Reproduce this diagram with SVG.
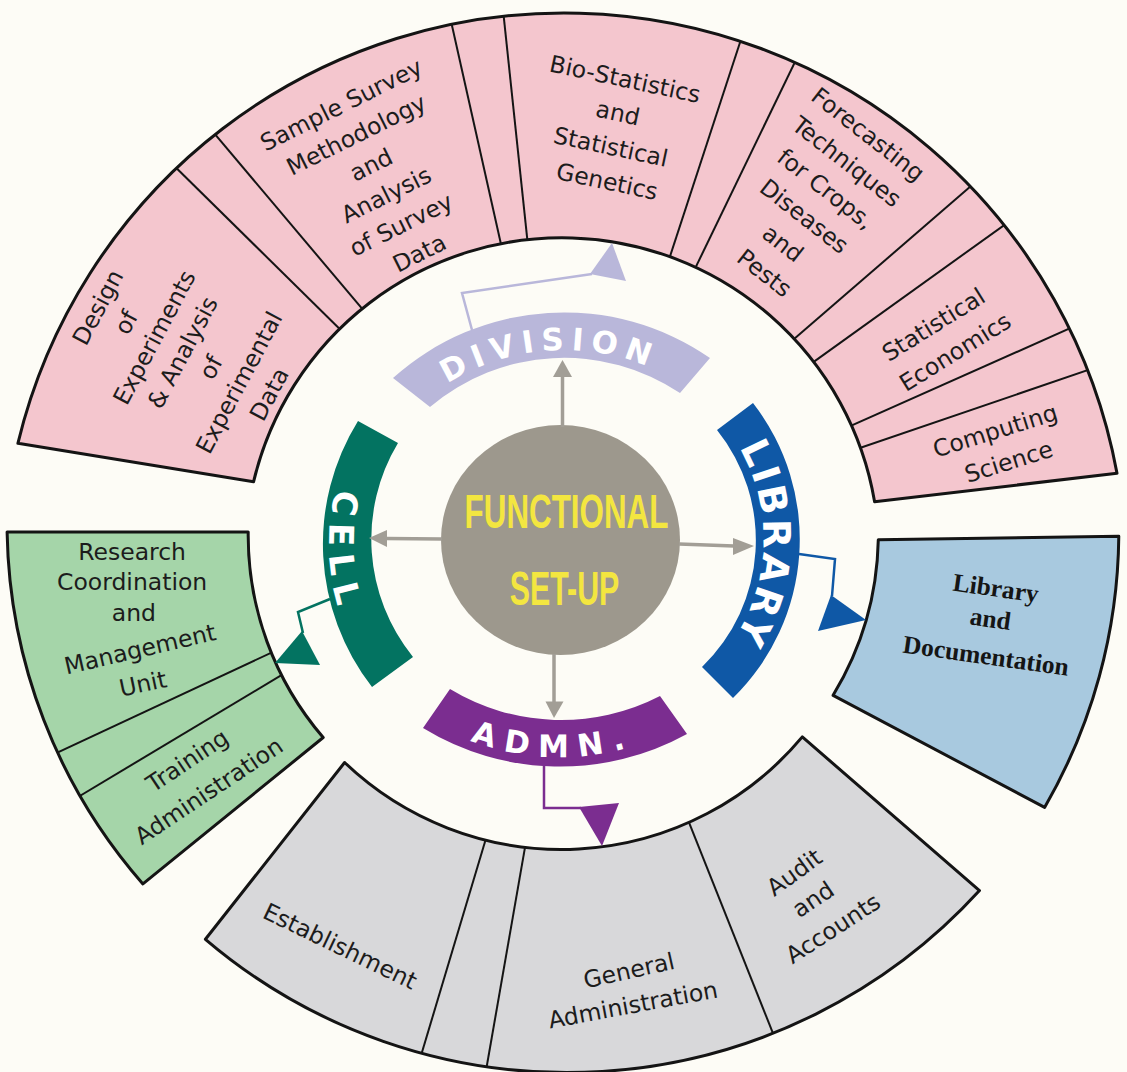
<svg xmlns="http://www.w3.org/2000/svg" width="1127" height="1072" viewBox="0 0 1127 1072">
  <defs>
    <style>
      .bg { fill: #fdfcf6; }
      .pink { fill: #f4c6ce; }
      .green { fill: #a5d5a9; }
      .blue { fill: #a8c9df; }
      .grey { fill: #d8d8da; }
      .outline { fill: none; stroke: #141414; stroke-width: 3; stroke-linejoin: round; }
      .sep { stroke: #141414; stroke-width: 2; fill: none; }
      .lbl { font-family: "DejaVu Sans", "Liberation Sans", sans-serif; font-size: 23.5px; fill: #1c1c1c; text-anchor: middle; }
      .serif { font-family: "Liberation Serif", "DejaVu Serif", serif; font-weight: bold; font-size: 25.5px; fill: #151515; text-anchor: middle; }
      .band-t { font-family: "DejaVu Sans", "Liberation Sans", sans-serif; font-weight: bold; fill: #ffffff; }
      .core-t { font-family: "Liberation Sans", "DejaVu Sans", sans-serif; font-weight: bold; font-size: 49px; fill: #f3e640; text-anchor: middle; }
      .shaft { stroke: #a29e96; stroke-width: 3.5; fill: none; }
      .head { fill: #a29e96; }
    </style>

    <!-- outer ring boxes -->
    <path id="pinkShape" d="M 17.9,443.3 A 562 562 0 0 1 1117,473.3 L 874.6,501.7 A 317 317 0 0 0 253.6,481.7 Z"/>
    <path id="greenShape" d="M 7.1,532.1 L 248.2,532.1 A 310 310 0 0 0 323.2,737.5 L 142.9,883.9 A 548 548 0 0 1 7.1,532.1 Z"/>
    <path id="blueShape" d="M 878.3,539.8 L 1118.8,536.2 A 552 552 0 0 1 1044.6,807.4 L 833.1,695.3 A 312 312 0 0 0 878.3,539.8 Z"/>
    <path id="greyShape" d="M 344.6,762.5 A 314 314 0 0 0 802.3,736.9 L 979.5,890.6 A 558 558 0 0 1 205.4,939.3 Z"/>

    <clipPath id="clipPink"><use href="#pinkShape"/></clipPath>
    <clipPath id="clipGreen"><use href="#greenShape"/></clipPath>
    <clipPath id="clipGrey"><use href="#greyShape"/></clipPath>

    <!-- baselines for the lettering on the inner bands -->
    <path id="pathDivision" d="M 387.5,440.1 A 218 218 0 0 1 720.6,416.3"/>
    <path id="pathLibrary" d="M 701.2,400.8 A 184.5 184.5 0 0 1 693.8,683.4"/>
    <path id="pathCell" d="M 403.7,375.7 A 227 227 0 0 0 416.7,723.2"/>
    <path id="pathAdmn" d="M 362.2,661.2 A 252 252 0 0 0 748.2,672.6"/>
  </defs>

  <rect class="bg" x="0" y="0" width="1127" height="1072"/>

  <!-- Divisions (pink sector) -->
  <g id="divisions">
    <use href="#pinkShape" class="pink"/>
    <g clip-path="url(#clipPink)" class="sep">
      <line x1="162.1" y1="154.0" x2="348.6" y2="337.7"/>
      <line x1="202.7" y1="119.6" x2="370.5" y2="318.7"/>
      <line x1="448.0" y1="7.8" x2="503.9" y2="257.2"/>
      <line x1="501.7" y1="-2.6" x2="528.7" y2="252.6"/>
      <line x1="746.3" y1="23.2" x2="666.6" y2="266.8"/>
      <line x1="802.8" y1="45.8" x2="691.5" y2="275.9"/>
      <line x1="986.0" y1="173.1" x2="786.8" y2="345.2"/>
      <line x1="1021.7" y1="212.5" x2="803.6" y2="369.1"/>
      <line x1="1087.0" y1="320.7" x2="839.5" y2="430.9"/>
      <line x1="1105.9" y1="363.9" x2="845.9" y2="452.8"/>
    </g>
    <use href="#pinkShape" class="outline"/>

    <g id="div-design-experiments">
      <text class="lbl" transform="translate(184.5,349.2) rotate(-62)">
        <tspan x="0" y="-88">Design</tspan>
        <tspan x="0" y="-56">of</tspan>
        <tspan x="0" y="-24">Experiments</tspan>
        <tspan x="0" y="8">&amp; Analysis</tspan>
        <tspan x="0" y="40">of</tspan>
        <tspan x="0" y="72">Experimental</tspan>
        <tspan x="0" y="104">Data</tspan>
      </text>
    </g>
    <g id="div-sample-survey">
      <text class="lbl" transform="translate(382.1,178.3) rotate(-26.5)">
        <tspan x="0" y="-75.75">Sample Survey</tspan>
        <tspan x="0" y="-42.25">Methodology</tspan>
        <tspan x="0" y="-8.75">and</tspan>
        <tspan x="0" y="24.75">Analysis</tspan>
        <tspan x="0" y="58.25">of Survey</tspan>
        <tspan x="0" y="91.75">Data</tspan>
      </text>
    </g>
    <g id="div-bio-statistics">
      <text class="lbl" transform="translate(617.9,130.8) rotate(12)">
        <tspan x="0" y="-43.9">Bio-Statistics</tspan>
        <tspan x="0" y="-9.3">and</tspan>
        <tspan x="0" y="25.3">Statistical</tspan>
        <tspan x="0" y="59.9">Genetics</tspan>
      </text>
    </g>
    <g id="div-forecasting">
      <text class="lbl" transform="translate(817.7,205) rotate(38)">
        <tspan x="0" y="-78.5">Forecasting</tspan>
        <tspan x="0" y="-43.9">Techniques</tspan>
        <tspan x="0" y="-9.3">for Crops,</tspan>
        <tspan x="0" y="25.3">Diseases</tspan>
        <tspan x="0" y="59.9">and</tspan>
        <tspan x="0" y="94.5">Pests</tspan>
      </text>
    </g>
    <g id="div-statistical-economics">
      <text class="lbl" transform="translate(946,337.5) rotate(-32)">
        <tspan x="0" y="-9.3">Statistical</tspan>
        <tspan x="0" y="25.3">Economics</tspan>
      </text>
    </g>
    <g id="div-computing-science">
      <text class="lbl" transform="translate(1003.8,445.8) rotate(-17.3)">
        <tspan x="0" y="-8.75">Computing</tspan>
        <tspan x="0" y="24.75">Science</tspan>
      </text>
    </g>
  </g>

  <!-- Cell (green sector) -->
  <g id="cell-units">
    <use href="#greenShape" class="green"/>
    <g clip-path="url(#clipGreen)" class="sep">
      <line x1="41.8" y1="759.8" x2="290.3" y2="643.8"/>
      <line x1="66.4" y1="804" x2="294.3" y2="667.4"/>
    </g>
    <use href="#greenShape" class="outline"/>
    <g id="cell-research-coordination">
      <text class="lbl" transform="translate(132.1,551.8)"><tspan x="0" y="8">Research</tspan></text>
      <text class="lbl" transform="translate(132.1,582.1)"><tspan x="0" y="8">Coordination</tspan></text>
      <text class="lbl" transform="translate(133.9,612.5)"><tspan x="0" y="8">and</tspan></text>
      <text class="lbl" transform="translate(140,649.3) rotate(-13)"><tspan x="0" y="8">Management</tspan></text>
      <text class="lbl" transform="translate(142.9,683.9) rotate(-12)"><tspan x="0" y="8">Unit</tspan></text>
    </g>
    <g id="cell-training">
      <text class="lbl" transform="translate(187.5,760.7) rotate(-33.7)"><tspan x="0" y="8">Training</tspan></text>
      <text class="lbl" transform="translate(208.9,791.1) rotate(-33.7)"><tspan x="0" y="8">Administration</tspan></text>
    </g>
  </g>

  <!-- Library (blue sector) -->
  <g id="library-unit">
    <use href="#blueShape" class="blue"/>
    <use href="#blueShape" class="outline"/>
    <text class="serif" transform="translate(995.8,588.6) rotate(8)"><tspan x="0" y="8">Library</tspan></text>
    <text class="serif" transform="translate(990.4,619.3) rotate(8)"><tspan x="0" y="8">and</tspan></text>
    <text class="serif" transform="translate(986,656.2) rotate(8)"><tspan x="0" y="8">Documentation</tspan></text>
  </g>

  <!-- Administration (grey sector) -->
  <g id="admn-units">
    <use href="#greyShape" class="grey"/>
    <g clip-path="url(#clipGrey)" class="sep">
      <line x1="490.1" y1="824.8" x2="416.6" y2="1070.2"/>
      <line x1="528.1" y1="829.7" x2="483.6" y2="1084.3"/>
      <line x1="683.5" y1="808.6" x2="778.2" y2="1046.4"/>
    </g>
    <use href="#greyShape" class="outline"/>
    <g id="admn-establishment">
      <text class="lbl" transform="translate(340,946.4) rotate(25.7)"><tspan x="0" y="8">Establishment</tspan></text>
    </g>
    <g id="admn-general">
      <text class="lbl" transform="translate(629,970.7) rotate(-12.5)"><tspan x="0" y="8">General</tspan></text>
      <text class="lbl" transform="translate(633,1005) rotate(-10.5)"><tspan x="0" y="8">Administration</tspan></text>
    </g>
    <g id="admn-audit">
      <text class="lbl" transform="translate(794.4,872.5) rotate(-36)"><tspan x="0" y="8">Audit</tspan></text>
      <text class="lbl" transform="translate(813.2,899.6) rotate(-34)"><tspan x="0" y="8">and</tspan></text>
      <text class="lbl" transform="translate(833.1,928.6) rotate(-33)"><tspan x="0" y="8">Accounts</tspan></text>
    </g>
  </g>

  <!-- inner bands -->
  <g id="band-division">
    <path d="M 393,378 A 256 256 0 0 1 710,358 L 680,393 A 208 208 0 0 0 430,407 Z" fill="#b9b7da"/>
    <text class="band-t" font-size="31" letter-spacing="7"><textPath href="#pathDivision" startOffset="50%" text-anchor="middle">DIVISION</textPath></text>
  </g>
  <g id="band-library">
    <path d="M 753,403 A 222 222 0 0 1 733,698 L 702,667 A 176 176 0 0 0 717,430 Z" fill="#0f58a6"/>
    <text class="band-t" font-size="38" letter-spacing="3"><textPath href="#pathLibrary" startOffset="50%" text-anchor="middle">LIBRARY</textPath></text>
  </g>
  <g id="band-cell">
    <path d="M 358,421 A 233 233 0 0 0 372,687 L 413,657 A 187 187 0 0 1 398,443 Z" fill="#037361"/>
    <text class="band-t" font-size="34" letter-spacing="9"><textPath href="#pathCell" startOffset="50%" text-anchor="middle">CELL</textPath></text>
  </g>
  <g id="band-admn">
    <path d="M 423,728 A 263 263 0 0 0 687,734 L 660,696 A 215 215 0 0 1 450,689 Z" fill="#7b2d90"/>
    <text class="band-t" font-size="31" letter-spacing="10"><textPath href="#pathAdmn" startOffset="50%" text-anchor="middle">ADMN.</textPath></text>
  </g>

  <!-- hub -->
  <g id="functional-setup">
    <ellipse cx="560.5" cy="540" rx="119.5" ry="115" fill="#9d988d"/>
    <text class="core-t" transform="translate(566.5,528) scale(0.64,1)" x="0" y="0">FUNCTIONAL</text>
    <text class="core-t" transform="translate(564.5,605) scale(0.62,1)" x="0" y="0">SET-UP</text>
  </g>

  <!-- connectors -->
  <g id="connectors">
    <line class="shaft" x1="562.5" y1="427" x2="562.5" y2="376"/>
    <polygon class="head" points="562.5,360 553,377 572,377"/>
    <line class="shaft" x1="442" y1="539" x2="386" y2="538.5"/>
    <polygon class="head" points="369,538 387,530 387,547"/>
    <line class="shaft" x1="679" y1="544" x2="734" y2="546"/>
    <polygon class="head" points="754,546 733,538 733,555"/>
    <line class="shaft" x1="554" y1="654" x2="554" y2="703"/>
    <polygon class="head" points="554,718 545.5,701.5 563.5,701.5"/>

    <polyline points="472,330 462,293 592,274" fill="none" stroke="#b9b7da" stroke-width="2.5"/>
    <polygon points="590,274 612,243 626,281" fill="#b9b7da"/>

    <polyline points="799,554 835,559 832,596" fill="none" stroke="#0f58a6" stroke-width="2.5"/>
    <polygon points="831,595 866,620 818,631" fill="#0f58a6"/>

    <polyline points="330,599 298,612 303,633" fill="none" stroke="#037361" stroke-width="2.5"/>
    <polygon points="302,631 320,665 275,663" fill="#037361"/>

    <polyline points="544,766 544,808 581,808" fill="none" stroke="#7b2d90" stroke-width="2.5"/>
    <polygon points="579,807 619,803 602,846" fill="#7b2d90"/>
  </g>
</svg>
